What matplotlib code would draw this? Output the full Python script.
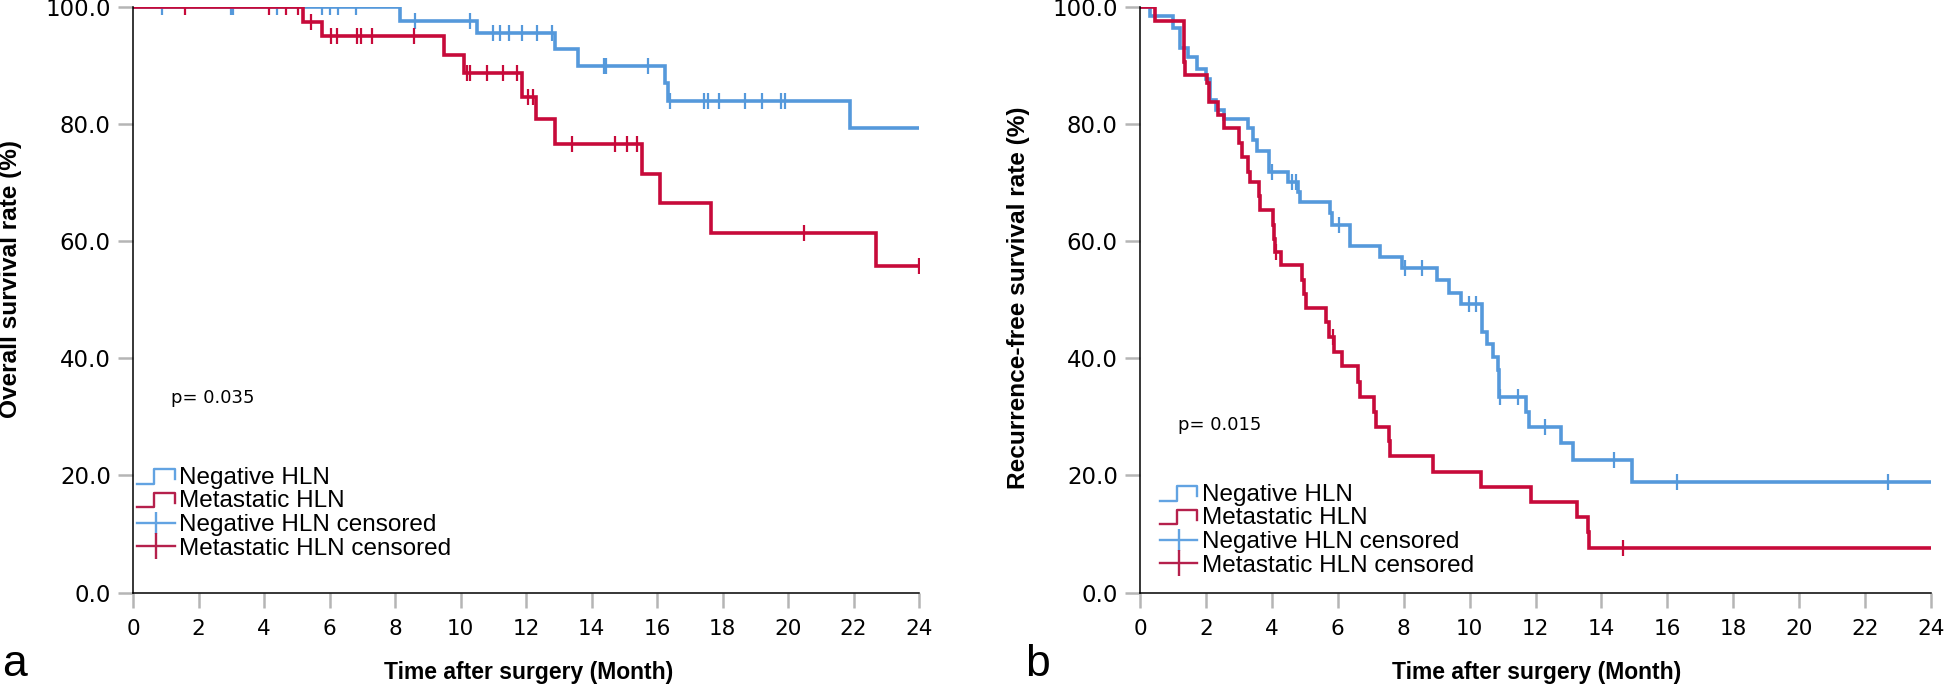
import numpy as np
import matplotlib
matplotlib.use("Agg")
import matplotlib.pyplot as plt
from matplotlib.lines import Line2D
from matplotlib.legend_handler import HandlerBase

# overall survival, negative HLN
os_neg_t = [0, 8.14, 10.5, 12.9, 13.6, 16.24, 16.35, 21.88, 24.0]
os_neg_s = [100, 97.6, 95.5, 92.7, 89.9, 86.9, 83.8, 79.2, 79.2]
os_neg_cens = [0.88, 3.0, 3.06, 4.4, 5.78, 6.03, 6.26, 6.8, 8.6, 10.3, 11.0, 11.2,
               11.47, 11.88, 12.35, 12.8, 14.37, 14.45, 15.71, 16.4, 17.42, 17.57,
               17.9, 18.7, 19.2, 19.8, 19.9]

# overall survival, metastatic HLN
os_met_t = [0, 5.18, 5.76, 9.5, 10.1, 11.88, 12.3, 12.9, 15.55, 16.1, 17.65, 22.7, 24.0]
os_met_s = [100, 97.4, 94.9, 91.7, 88.6, 84.6, 80.8, 76.5, 71.5, 66.4, 61.3, 55.7, 55.7]
os_met_cens = [1.6, 4.16, 4.67, 5.05, 5.44, 6.05, 6.23, 6.84, 6.95, 7.29, 8.58, 10.2,
               10.3, 10.8, 11.3, 11.74, 12.05, 12.2, 13.4, 14.73, 15.07, 15.4, 20.48, 24.0]

# recurrence-free survival, negative HLN
rfs_neg_t = [0, 0.3, 1.0, 1.22, 1.45, 1.72, 2.0, 2.12, 2.3, 2.54, 3.28, 3.44, 3.54,
             3.92, 4.5, 4.78, 4.85, 5.77, 5.83, 6.38, 7.29, 7.95, 9.0, 9.37, 9.75,
             10.38, 10.53, 10.7, 10.86, 10.9, 11.7, 11.8, 12.76, 13.13, 14.92, 24.0]
rfs_neg_s = [100, 98.3, 96.4, 93.0, 91.3, 89.4, 87.7, 84.0, 82.3, 80.8, 79.2, 77.2, 75.3,
             71.8, 70.1, 68.4, 66.6, 64.8, 62.8, 59.1, 57.2, 55.4, 53.4, 51.2, 49.2,
             44.5, 42.5, 40.2, 38.0, 33.4, 30.9, 28.3, 25.5, 22.6, 18.8, 18.8]
rfs_neg_cens = [4.0, 4.62, 4.72, 6.03, 8.05, 8.56, 9.98, 10.18, 10.93, 11.48, 12.3,
                14.37, 16.3, 22.7]

# recurrence-free survival, metastatic HLN
rfs_met_t = [0, 0.46, 1.33, 1.37, 2.03, 2.1, 2.38, 2.56, 3.0, 3.1, 3.29, 3.34, 3.6, 3.63,
             4.03, 4.06, 4.09, 4.29, 4.91, 4.98, 5.04, 5.63, 5.74, 5.9, 6.14, 6.6, 6.67,
             7.09, 7.15, 7.55, 7.6, 8.88, 10.35, 11.85, 13.27, 13.58, 13.62, 24.0]
rfs_met_s = [100, 97.6, 90.5, 88.3, 86.9, 83.7, 81.5, 79.2, 76.7, 74.4, 71.8, 70.0, 67.6, 65.2,
             62.8, 60.3, 58.2, 55.9, 53.4, 50.9, 48.6, 46.2, 43.7, 41.1, 38.6, 36.0, 33.4,
             30.9, 28.3, 25.8, 23.3, 20.6, 18.0, 15.4, 12.9, 10.4, 7.7, 7.7]
rfs_met_cens = [4.12, 5.85, 14.64]

labels = ["Negative HLN", "Metastatic HLN", "Negative HLN censored", "Metastatic HLN censored"]
xticks = list(range(0, 25, 2))
yticks = [0, 20, 40, 60, 80, 100]

BLUE = "#5599db"
RED = "#c70a3a"
LEG_BLUE = "#62a3e2"
LEG_RED = "#b5204c"


class StepHandler(HandlerBase):
    def create_artists(self, legend, orig_handle, xdescent, ydescent, width, height, fontsize, trans):
        x0, y0 = -xdescent, -ydescent
        xs = [x0, x0 + 0.45 * width, x0 + 0.45 * width, x0 + width, x0 + width]
        ys = [y0 + 0.0 * height, y0 + 0.0 * height, y0 + 0.85 * height,
              y0 + 0.85 * height, y0 + 0.25 * height]
        return [Line2D(xs, ys, color=orig_handle.get_color(), lw=1.7, transform=trans)]


def step_value(t, s, c):
    idx = np.searchsorted(np.array(t), np.array(c), side="right") - 1
    return np.array(s)[idx]


def km_panel(ax, neg, met, ptext, ppos, legpos):
    for (t, s, cens), col in [(neg, BLUE), (met, RED)]:
        ax.step(t, s, where="post", color=col, lw=2.6, solid_joinstyle="miter")
        ax.plot(cens, step_value(t, s, cens), ls="none", marker="|", ms=11, mew=1.6, color=col)
    ax.set_xlim(0, 24)
    ax.set_ylim(0, 100)
    ax.set_xticks(xticks)
    ax.set_yticks(yticks)
    ax.set_yticklabels([f"{v:.1f}" for v in yticks], fontsize=16.5, family="DejaVu Sans")
    ax.set_xticklabels([str(v) for v in xticks], fontsize=15.5, family="DejaVu Sans")
    ax.tick_params(axis="both", color="#b5b5b5", length=11, width=1.8)
    ax.tick_params(axis="y", pad=5)
    ax.tick_params(axis="x", pad=8)
    for side in ["top", "right"]:
        ax.spines[side].set_visible(False)
    for side in ["left", "bottom"]:
        ax.spines[side].set_linewidth(1.1)
        ax.spines[side].set_color("black")
    ax.text(ppos[0], ppos[1], ptext, fontsize=13, family="DejaVu Sans", va="baseline")

    handles = [Line2D([], [], color=LEG_BLUE), Line2D([], [], color=LEG_RED),
               Line2D([], [], color=LEG_BLUE, lw=1.7, marker="|", ms=16, mew=1.7),
               Line2D([], [], color=LEG_RED, lw=1.7, marker="|", ms=19, mew=1.7)]
    ax.legend(handles, labels, loc="upper left", bbox_to_anchor=legpos, frameon=False,
              borderaxespad=0, borderpad=0, handlelength=1.55, handletextpad=0.2,
              labelspacing=0.07, numpoints=1,
              prop={"family": "Liberation Sans", "size": 17.5},
              handler_map={handles[0]: StepHandler(), handles[1]: StepHandler()})


fig = plt.figure(figsize=(19.45, 6.93), dpi=100)
ax1 = fig.add_axes([133 / 1945, 100.3 / 693, 786 / 1945, 586.2 / 693])
ax2 = fig.add_axes([1140 / 1945, 100.3 / 693, 791 / 1945, 586.2 / 693])

km_panel(ax1, (os_neg_t, os_neg_s, os_neg_cens), (os_met_t, os_met_s, os_met_cens),
         "p= 0.035", (1.17, 32.4), (0.005, 0.215))
km_panel(ax2, (rfs_neg_t, rfs_neg_s, rfs_neg_cens), (rfs_met_t, rfs_met_s, rfs_met_cens),
         "p= 0.015", (1.16, 27.8), (0.025, 0.186))

fig.text(11 / 1945, 1 - 279 / 693, "Overall survival rate (%)", rotation=90, ha="center",
         va="center", fontsize=17.6, fontweight="bold", family="Liberation Sans")
fig.text(1018 / 1945, 1 - 298 / 693, "Recurrence-free survival rate (%)", rotation=90,
         ha="center", va="center", fontsize=17.6, fontweight="bold", family="Liberation Sans")
fig.text(529 / 1945, 1 - 673 / 693, "Time after surgery (Month)", ha="center", va="center",
         fontsize=16.5, fontweight="bold", family="Liberation Sans")
fig.text(1537 / 1945, 1 - 673 / 693, "Time after surgery (Month)", ha="center", va="center",
         fontsize=16.5, fontweight="bold", family="Liberation Sans")
fig.text(2 / 1945, 1 - 676 / 693, "a", fontsize=32, family="Liberation Sans", va="baseline")
fig.text(1025 / 1945, 1 - 676 / 693, "b", fontsize=32, family="Liberation Sans", va="baseline")

fig.savefig("out.png", dpi=100, facecolor="white")
